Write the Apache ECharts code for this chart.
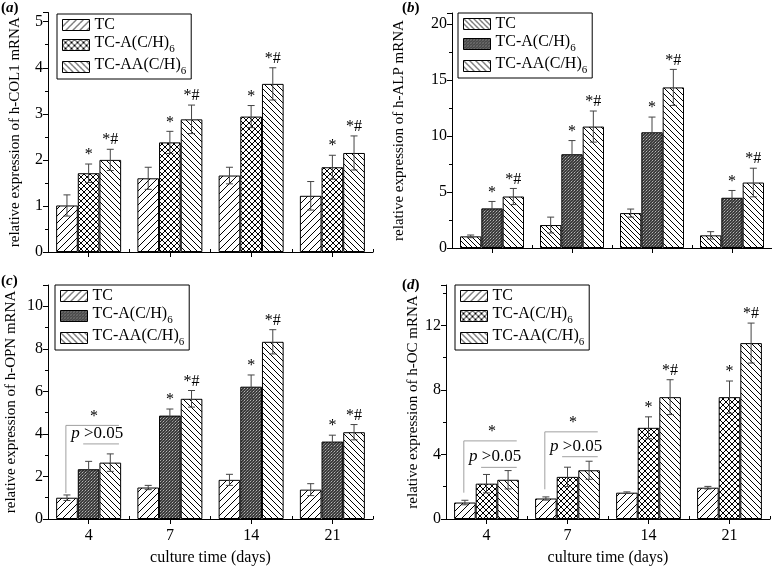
<!DOCTYPE html>
<html><head><meta charset="utf-8">
<script src="https://cdn.jsdelivr.net/npm/echarts@6/dist/echarts.min.js"></script>
<style>html,body{margin:0;padding:0;background:#fff}#c{width:772px;height:567px}</style>
</head><body><div id="c"></div>
<script>
// ---------- DATA ----------
const categories = ['4', '7', '14', '21'];
const legendLabels = ['TC', 'TC-A(C/H)6', 'TC-AA(C/H)6'];

// (a) h-COL1
const colTC = [1.01, 1.60, 1.66, 1.22];
const colTCerr = [0.23, 0.24, 0.18, 0.31];
const colA = [1.71, 2.38, 2.94, 1.84];
const colAerr = [0.20, 0.24, 0.24, 0.26];
const colAA = [2.00, 2.88, 3.65, 2.15];
const colAAerr = [0.23, 0.31, 0.35, 0.37];
const colMarksA = ['*', '*', '*', '*'];
const colMarksAA = ['*#', '*#', '*#', '*#'];

// (b) h-ALP
const alpTC = [1.04, 2.05, 3.12, 1.13];
const alpTCerr = [0.12, 0.71, 0.36, 0.33];
const alpA = [3.54, 8.38, 10.34, 4.49];
const alpAerr = [0.62, 1.22, 1.36, 0.65];
const alpAA = [4.60, 10.85, 14.35, 5.85];
const alpAAerr = [0.72, 1.39, 1.61, 1.28];
const alpMarksA = ['*', '*', '*', '*'];
const alpMarksAA = ['*#', '*#', '*#', '*#'];

// (c) h-OPN
const opnTC = [1.00, 1.48, 1.84, 1.38];
const opnTCerr = [0.13, 0.10, 0.26, 0.28];
const opnA = [2.34, 4.86, 6.22, 3.64];
const opnAerr = [0.37, 0.31, 0.55, 0.30];
const opnAA = [2.65, 5.65, 8.33, 4.08];
const opnAAerr = [0.41, 0.39, 0.57, 0.36];
const opnMarksA = ['', '*', '*', '*'];
const opnMarksAA = ['', '*#', '*#', '*#'];
// [category index, upper bracket value, left-leg bottom value, lower bracket value]
const opnBrackets = [[0, 4.40, 1.22, 3.53]];

// (d) h-OC
const ocTC = [1.02, 1.27, 1.63, 1.94];
const ocTCerr = [0.14, 0.10, 0.05, 0.08];
const ocA = [2.19, 2.61, 5.65, 7.55];
const ocAerr = [0.57, 0.60, 0.68, 1.00];
const ocAA = [2.43, 3.02, 7.55, 10.90];
const ocAAerr = [0.57, 0.56, 1.08, 1.24];
const ocMarksA = ['', '', '*', '*'];
const ocMarksAA = ['', '', '*#', '*#'];
const ocBrackets = [[0, 4.84, 1.63, 3.20], [1, 5.40, 1.84, 3.86]];

// ---------- STYLE ----------
const FF = "'Liberation Serif','Times New Roman',serif";

function hatch(size, kind) {
  const c = document.createElement('canvas');
  c.width = c.height = size;
  const g = c.getContext('2d');
  g.fillStyle = '#fff'; g.fillRect(0, 0, size, size);
  g.strokeStyle = '#000'; g.lineWidth = 1;
  g.beginPath();
  for (let k = -1; k <= 1; k++) {
    if (kind.indexOf('/') >= 0) { g.moveTo(k * size, size); g.lineTo(k * size + size, 0); }
    if (kind.indexOf('\\') >= 0) { g.moveTo(k * size, 0); g.lineTo(k * size + size, size); }
  }
  g.stroke();
  return { image: c, repeat: 'repeat' };
}
function dots() {
  const c = document.createElement('canvas');
  c.width = c.height = 3;
  const g = c.getContext('2d');
  g.fillStyle = '#3c3c3c'; g.fillRect(0, 0, 3, 3);
  g.fillStyle = '#b8b8b8'; g.fillRect(1, 1, 1, 1);
  g.fillStyle = '#7a7a7a'; g.fillRect(2, 0, 1, 1); g.fillRect(0, 2, 1, 1);
  return { image: c, repeat: 'repeat' };
}
const P_FWD = hatch(7, '/');
const P_BACK = hatch(6, '\\');
const P_BACK2 = hatch(5, '\\');
const P_CROSS = hatch(6, '/\\');
const P_DOTS = dots();

const panels = [
  { key: 'a', grid: { left: 48, top: 12.5, width: 325, height: 239.5 }, max: 5.2, interval: 1,
    yname: 'relative expression of h-COL1 mRNA', nameGap: 25, xname: '', showX: false,
    vals: [colTC, colA, colAA], errs: [colTCerr, colAerr, colAAerr], marks: [null, colMarksA, colMarksAA],
    pats: [P_FWD, P_CROSS, P_BACK], legend: { left: 57, top: 14 }, brackets: [] },
  { key: 'b', grid: { left: 452, top: 13, width: 320, height: 235 }, max: 21, interval: 5,
    yname: 'relative expression of h-ALP mRNA', nameGap: 45, xname: '', showX: false,
    vals: [alpTC, alpA, alpAA], errs: [alpTCerr, alpAerr, alpAAerr], marks: [null, alpMarksA, alpMarksAA],
    pats: [P_BACK2, P_DOTS, P_BACK], legend: { left: 458, top: 13 }, brackets: [] },
  { key: 'c', grid: { left: 48, top: 285, width: 325, height: 240.7 }, max: 11, interval: 2,
    yname: 'relative expression of h-OPN mRNA', nameGap: 29, xname: 'culture time (days)', showX: true,
    vals: [opnTC, opnA, opnAA], errs: [opnTCerr, opnAerr, opnAAerr], marks: [null, opnMarksA, opnMarksAA],
    pats: [P_FWD, P_DOTS, P_BACK], legend: { left: 55, top: 285 }, brackets: opnBrackets },
  { key: 'd', grid: { left: 446, top: 285, width: 324, height: 236.7 }, max: 14.5, interval: 4,
    yname: 'relative expression of h-OC mRNA', nameGap: 25, xname: 'culture time (days)', showX: true,
    vals: [ocTC, ocA, ocAA], errs: [ocTCerr, ocAerr, ocAAerr], marks: [null, ocMarksA, ocMarksAA],
    pats: [P_FWD, P_CROSS, P_BACK], legend: { left: 455, top: 285 }, brackets: ocBrackets }
];

const grids = [], xAxes = [], yAxes = [], series = [], legends = [], titles = [];
const richLegend = {
  n: { fontFamily: FF, fontSize: 16, color: '#000', lineHeight: 16, verticalAlign: 'top' },
  s: { fontFamily: FF, fontSize: 11, color: '#000', lineHeight: 20, verticalAlign: 'bottom' }
};
function legendFmt(name) {
  const k = +name.split('_')[1];
  if (k === 0) return '{n|' + legendLabels[0] + '}';
  return '{n|' + legendLabels[k].slice(0, -1) + '}{s|6}';
}

panels.forEach((p, gi) => {
  grids.push(Object.assign({ containLabel: false }, p.grid));
  xAxes.push({
    gridIndex: gi, type: 'category', data: categories, position: 'bottom',
    axisLine: { show: true, lineStyle: { color: '#000', width: 1 } },
    axisTick: { show: true, alignWithLabel: true, length: 5, lineStyle: { color: '#000' } },
    axisLabel: { show: p.showX, fontFamily: FF, fontSize: 16, color: '#000', margin: 9 },
    splitLine: { show: false },
    name: p.xname, nameLocation: 'middle', nameGap: 31,
    nameTextStyle: { fontFamily: FF, fontSize: 16, color: '#000' }
  });
  xAxes.push({
    gridIndex: gi, type: 'category', data: categories, position: 'bottom',
    axisLine: { show: false }, axisLabel: { show: false },
    axisTick: { show: true, inside: true, length: 3, lineStyle: { color: '#000' } },
    splitLine: { show: false }
  });
  const iv = p.interval;
  yAxes.push({
    gridIndex: gi, type: 'value', min: 0, max: p.max, interval: iv,
    axisLine: { show: true, lineStyle: { color: '#000', width: 1 } },
    axisTick: { show: true, length: 5, lineStyle: { color: '#000' } },
    minorTick: { show: true, splitNumber: 2, length: 3, lineStyle: { color: '#000' } },
    splitLine: { show: false }, minorSplitLine: { show: false },
    axisLabel: { fontFamily: FF, fontSize: 16, color: '#000', margin: 5,
      formatter: v => (Math.abs(v / iv - Math.round(v / iv)) < 1e-6 ? String(v) : '') },
    name: p.yname, nameLocation: 'middle', nameGap: p.nameGap,
    nameTextStyle: { fontFamily: FF, fontSize: 15, color: '#000' }
  });
  const names = [];
  for (let k = 0; k < 3; k++) {
    const nm = p.key + '_' + k;
    names.push(nm);
    series.push({
      type: 'bar', name: nm, xAxisIndex: gi * 2, yAxisIndex: gi, data: p.vals[k],
      barGap: '0%', barCategoryGap: '20%', z: 2,
      itemStyle: { color: p.pats[k], borderColor: '#000', borderWidth: 1 },
      emphasis: { disabled: true }, animation: false
    });
    const marks = p.marks[k];
    const kk = k;
    series.push({
      type: 'custom', xAxisIndex: gi * 2, yAxisIndex: gi, z: 5, silent: true, clip: false,
      animation: false,
      data: p.vals[k].map((v, i) => [i, v, p.errs[k][i]]),
      renderItem: (params, api) => {
        const i = api.value(0), v = api.value(1), e = api.value(2);
        const band = api.size([1, 0])[0];
        const bw = band * 0.8 / 3;
        const x = api.coord([i, v])[0] + (kk - 1) * bw;
        const yt = api.coord([i, v + e])[1];
        const yb = api.coord([i, v - e])[1];
        const ls = { stroke: '#444', lineWidth: 1 };
        const ch = [
          { type: 'line', shape: { x1: x, y1: yt, x2: x, y2: yb }, style: ls },
          { type: 'line', shape: { x1: x - 3.5, y1: yt, x2: x + 3.5, y2: yt }, style: ls },
          { type: 'line', shape: { x1: x - 3.5, y1: yb, x2: x + 3.5, y2: yb }, style: ls }
        ];
        if (marks && marks[params.dataIndex]) {
          ch.push({ type: 'text', style: { text: marks[params.dataIndex], x: x, y: yt - 1,
            align: 'center', verticalAlign: 'bottom', font: '16px ' + FF, fill: '#000' } });
        }
        return { type: 'group', children: ch };
      }
    });
  }
  if (p.brackets.length) {
    series.push({
      type: 'custom', xAxisIndex: gi * 2, yAxisIndex: gi, z: 6, silent: true, clip: false,
      animation: false, data: p.brackets,
      renderItem: (params, api) => {
        const i = api.value(0), up = api.value(1), leg = api.value(2), lo = api.value(3);
        const band = api.size([1, 0])[0];
        const bw = band * 0.8 / 3;
        const cx = api.coord([i, up])[0];
        const yu = api.coord([i, up])[1], yl = api.coord([i, leg])[1], ylo = api.coord([i, lo])[1];
        const ls = { stroke: '#a0a0a0', lineWidth: 1 };
        const xr = cx + 1.4 * bw;
        return { type: 'group', children: [
          { type: 'line', shape: { x1: cx - 1.05 * bw, y1: yu, x2: xr, y2: yu }, style: ls },
          { type: 'line', shape: { x1: cx - 1.05 * bw, y1: yu, x2: cx - 1.05 * bw, y2: yl }, style: ls },
          { type: 'line', shape: { x1: cx - 0.25 * bw, y1: ylo, x2: xr, y2: ylo }, style: ls },
          { type: 'text', style: { text: '*', x: cx + 0.25 * bw, y: yu - 1, align: 'center',
            verticalAlign: 'bottom', font: '16px ' + FF, fill: '#000' } },
          { type: 'text', style: { text: '{i|p}{n| >0.05}', x: cx + 0.4 * bw, y: ylo - 2, align: 'center',
            verticalAlign: 'bottom', fill: '#000',
            rich: { i: { font: 'italic 17px ' + FF, fill: '#000' }, n: { font: '17px ' + FF, fill: '#000' } } } }
        ] };
      }
    });
  }
  legends.push({
    data: names, orient: 'vertical', left: p.legend.left, top: p.legend.top,
    padding: [3, 5, 2, 5], itemGap: 2, itemWidth: 27, itemHeight: 11, itemTextGap: 3,
    icon: 'rect', borderColor: '#000', borderWidth: 1, backgroundColor: '#fff',
    selectedMode: false,
    itemStyle: { borderColor: '#000', borderWidth: 1 },
    formatter: legendFmt,
    textStyle: { fontFamily: FF, fontSize: 16, color: '#000', rich: richLegend }
  });
});

titles.push(
  { text: '{p|(}{i|a}{p|)}', left: 1, top: 1 },
  { text: '{p|(}{i|b}{p|)}', left: 402, top: 1 },
  { text: '{p|(}{i|c}{p|)}', left: 1, top: 274 },
  { text: '{p|(}{i|d}{p|)}', left: 402, top: 278 }
);
titles.forEach(t => {
  t.padding = 0;
  t.textStyle = { rich: {
    p: { fontFamily: FF, fontSize: 15, color: '#000' },
    i: { fontFamily: FF, fontSize: 15, fontStyle: 'italic', color: '#000' } } };
});

const chart = echarts.init(document.getElementById('c'), null, { renderer: 'canvas' });
chart.setOption({
  animation: false, backgroundColor: '#fff',
  title: titles, grid: grids, xAxis: xAxes, yAxis: yAxes, legend: legends, series: series,
  tooltip: { show: false }
});
</script></body></html>
